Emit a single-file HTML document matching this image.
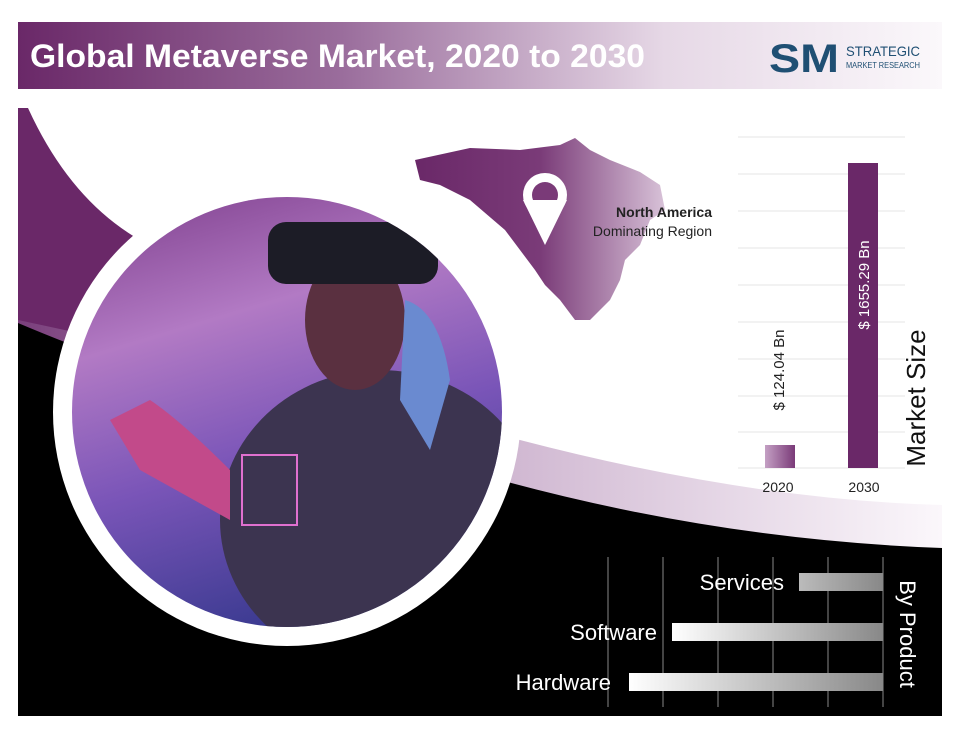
<!DOCTYPE html>
<html><head><meta charset="utf-8"><style>
body{margin:0;background:#fff;width:960px;height:733px;overflow:hidden;font-family:"Liberation Sans",sans-serif}
</style></head><body>
<svg width="960" height="733" viewBox="0 0 960 733" xmlns="http://www.w3.org/2000/svg">
<defs>
<linearGradient id="hdr" x1="0" x2="1"><stop offset="0" stop-color="#6a2868"/><stop offset="0.35" stop-color="#9a6d9c"/><stop offset="0.7" stop-color="#e6d8e6"/><stop offset="1" stop-color="#fbf8fb"/></linearGradient>
<linearGradient id="band" x1="0" x2="1"><stop offset="0" stop-color="#7a3f7c"/><stop offset="0.4" stop-color="#c4a6c6"/><stop offset="1" stop-color="#fbf7fb"/></linearGradient>
<linearGradient id="map" x1="0" x2="1"><stop offset="0" stop-color="#6a2868"/><stop offset="0.5" stop-color="#7a3b78"/><stop offset="1" stop-color="#d8c2d8"/></linearGradient>
<linearGradient id="b20" x1="0" x2="1"><stop offset="0" stop-color="#c4a0c4"/><stop offset="1" stop-color="#7a3a78"/></linearGradient>
<linearGradient id="hb" x1="0" x2="1"><stop offset="0" stop-color="#ffffff"/><stop offset="1" stop-color="#888"/></linearGradient>
<linearGradient id="sb" x1="0" x2="1"><stop offset="0" stop-color="#bbb"/><stop offset="1" stop-color="#888"/></linearGradient>
<linearGradient id="photo" x1="0" y1="0" x2="0.3" y2="1"><stop offset="0" stop-color="#7a3a88"/><stop offset="0.35" stop-color="#b27ac4"/><stop offset="0.65" stop-color="#7a55b8"/><stop offset="1" stop-color="#3a3a90"/></linearGradient>
<clipPath id="cc"><circle cx="287" cy="412" r="215"/></clipPath>
</defs>
<rect x="18" y="22" width="924" height="67" fill="url(#hdr)"/>
<text x="30" y="67" font-size="32" font-weight="bold" fill="#fff" textLength="615" lengthAdjust="spacingAndGlyphs">Global Metaverse Market, 2020 to 2030</text>
<text x="769" y="72" font-size="40" font-weight="bold" fill="#1f4f73" textLength="70" lengthAdjust="spacingAndGlyphs">SM</text>
<text x="846" y="56" font-size="14" fill="#1f4f73" textLength="74" lengthAdjust="spacingAndGlyphs">STRATEGIC</text>
<text x="846" y="68" font-size="8" fill="#1f4f73" textLength="74" lengthAdjust="spacingAndGlyphs">MARKET RESEARCH</text>
<!-- panel -->
<rect x="18" y="108" width="924" height="608" fill="#fff"/>
<path d="M18 108 L28 108 Q70 200 140 240 L160 340 L18 340 Z" fill="#6a2868"/>
<path d="M18 320 Q300 380 520 440 Q750 500 942 505 L942 548 L18 548 Z" fill="url(#band)"/>
<path d="M18 323 Q200 400 500 480 Q720 540 942 548 L942 716 L18 716 Z" fill="#000"/>
<!-- circle -->
<circle cx="287" cy="412" r="234" fill="#fff"/>
<g clip-path="url(#cc)">
<rect x="60" y="190" width="460" height="460" fill="url(#photo)"/>
<ellipse cx="380" cy="520" rx="160" ry="150" fill="#3c3450"/>
<path d="M230 470 Q180 420 150 400 L110 420 L140 470 L230 520 Z" fill="#c24a8a"/>
<ellipse cx="355" cy="320" rx="50" ry="70" fill="#5a3040"/>
<rect x="268" y="222" width="170" height="62" rx="18" fill="#1c1c26"/>
<path d="M405 300 Q440 310 450 380 L430 450 L400 400 Z" fill="#6a8ad0"/>
<rect x="242" y="455" width="55" height="70" fill="none" stroke="#e070d0" stroke-width="2"/>
</g>
<!-- map -->
<path d="M415 160 L470 148 L520 150 L560 145 L575 138 L590 150 L610 160 L640 172 L660 185 L665 210 L650 220 L640 245 L625 260 L620 280 L610 300 L590 320 L575 320 L560 300 L545 285 L535 270 L520 250 L505 230 L470 200 L440 185 L420 180 Z" fill="url(#map)"/>
<circle cx="545" cy="195" r="22" fill="#fff"/><circle cx="545" cy="195" r="13" fill="#7a3a78"/>
<path d="M523 200 L545 245 L567 200 Z" fill="#fff"/>
<text x="712" y="217" font-size="14" font-weight="bold" text-anchor="end" fill="#222">North America</text>
<text x="712" y="236" font-size="14" text-anchor="end" fill="#222">Dominating Region</text>
<!-- bar chart -->
<g stroke="#eee" stroke-width="1.5">
<line x1="738" y1="137" x2="905" y2="137"/><line x1="738" y1="174" x2="905" y2="174"/><line x1="738" y1="211" x2="905" y2="211"/><line x1="738" y1="248" x2="905" y2="248"/><line x1="738" y1="285" x2="905" y2="285"/><line x1="738" y1="322" x2="905" y2="322"/><line x1="738" y1="359" x2="905" y2="359"/><line x1="738" y1="396" x2="905" y2="396"/><line x1="738" y1="432" x2="905" y2="432"/><line x1="738" y1="468" x2="905" y2="468"/>
</g>
<rect x="765" y="445" width="30" height="23" fill="url(#b20)"/>
<rect x="848" y="163" width="30" height="305" fill="#6a2868"/>
<text x="778" y="492" font-size="14" text-anchor="middle" fill="#222">2020</text>
<text x="864" y="492" font-size="14" text-anchor="middle" fill="#222">2030</text>
<text transform="translate(784,370) rotate(-90)" font-size="15" text-anchor="middle" fill="#222">$ 124.04 Bn</text>
<text transform="translate(869,285) rotate(-90)" font-size="15" text-anchor="middle" fill="#fff">$ 1655.29 Bn</text>
<text transform="translate(925,398) rotate(-90)" font-size="26" text-anchor="middle" fill="#111">Market Size</text>
<!-- bottom -->
<g stroke="#888" stroke-width="1">
<line x1="608" y1="557" x2="608" y2="707"/><line x1="663" y1="557" x2="663" y2="707"/><line x1="718" y1="557" x2="718" y2="707"/><line x1="773" y1="557" x2="773" y2="707"/><line x1="828" y1="557" x2="828" y2="707"/><line x1="883" y1="557" x2="883" y2="707"/>
</g>
<rect x="799" y="573" width="84" height="18" fill="url(#sb)"/>
<rect x="672" y="623" width="211" height="18" fill="url(#hb)"/>
<rect x="629" y="673" width="254" height="18" fill="url(#hb)"/>
<text x="784" y="590" font-size="22" text-anchor="end" fill="#fff">Services</text>
<text x="657" y="640" font-size="22" text-anchor="end" fill="#fff">Software</text>
<text x="611" y="690" font-size="22" text-anchor="end" fill="#fff">Hardware</text>
<text transform="translate(900,634) rotate(90)" font-size="22" text-anchor="middle" fill="#fff">By Product</text>
</svg>
</body></html>
